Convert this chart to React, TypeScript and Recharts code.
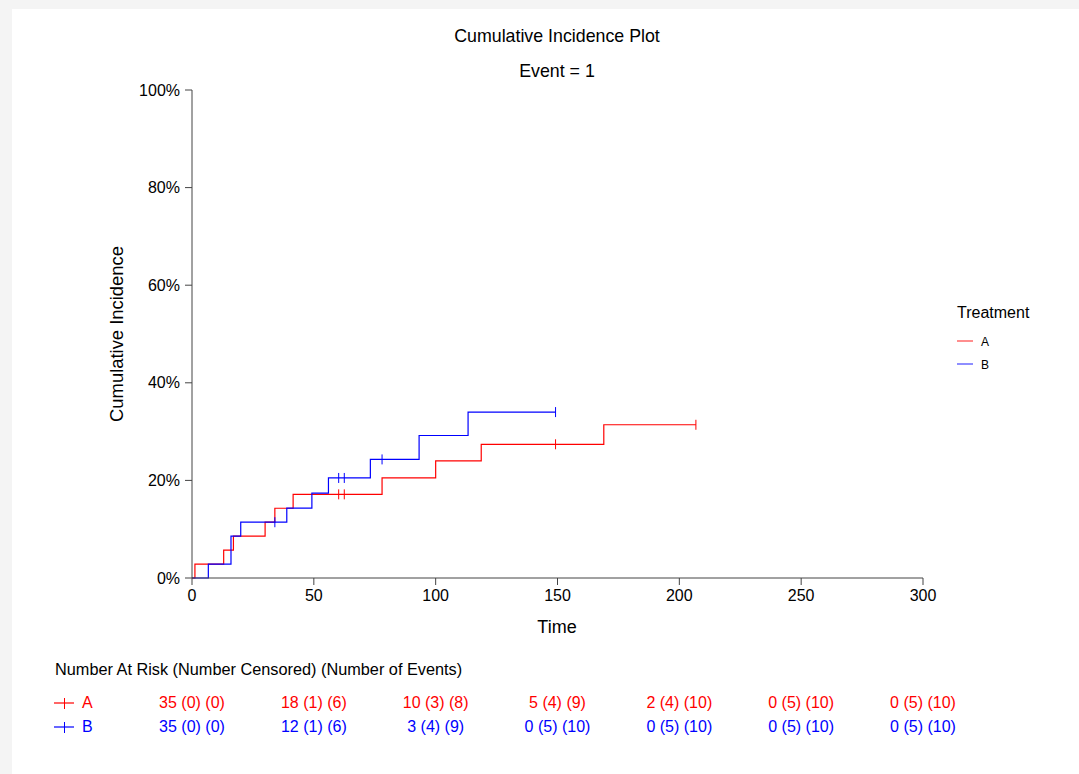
import React from 'react';
import { ComposedChart, Line, Scatter, XAxis, YAxis } from 'recharts';

// cumulative incidence steps (time, percent)
const timesA = [0, 1.2, 13, 17, 30, 34, 41.5, 78, 100, 118.7, 169, 206.8];
const incA = [0, 2.86, 5.71, 8.57, 11.43, 14.29, 17.14, 20.5, 24.0, 27.4, 31.4, 31.4];
const censorA = [60.2, 62.5, 149.2, 206.8];

const timesB = [0, 6.7, 16, 20, 38.9, 49.2, 56, 73.2, 93.2, 113.3, 149.2];
const incB = [0, 2.86, 8.57, 11.43, 14.3, 17.4, 20.5, 24.3, 29.2, 34.0, 34.0];
const censorB = [34, 60.2, 62.5, 78, 149.2];

const xTicks = [0, 50, 100, 150, 200, 250, 300];
const yTicks = [0, 20, 40, 60, 80, 100];

const riskTimes = [0, 50, 100, 150, 200, 250, 300];
const riskA = ['35 (0) (0)', '18 (1) (6)', '10 (3) (8)', '5 (4) (9)', '2 (4) (10)', '0 (5) (10)', '0 (5) (10)'];
const riskB = ['35 (0) (0)', '12 (1) (6)', '3 (4) (9)', '0 (5) (10)', '0 (5) (10)', '0 (5) (10)', '0 (5) (10)'];

const RED = '#ff0000';
const BLUE = '#0000ff';
const AXIS = '#444';
const FONT = '"Liberation Sans", Arial, sans-serif';

const W = 1079;
const H = 774;
const PLOT_LEFT = 192;
const PLOT_RIGHT = 923;
const PLOT_TOP = 90;
const PLOT_BOTTOM = 578;

const toSteps = (ts: number[], vs: number[]) => ts.map((t, i) => ({ t, v: vs[i] }));
const stepsA = toSteps(timesA, incA);
const stepsB = toSteps(timesB, incB);

// value of a step curve at time t
const valueAt = (ts: number[], vs: number[], t: number) => {
  let v = vs[0];
  ts.forEach((tt, i) => {
    if (tt <= t) v = vs[i];
  });
  return v;
};
const marksA = censorA.map((t) => ({ t, v: valueAt(timesA, incA, t) }));
const marksB = censorB.map((t) => ({ t, v: valueAt(timesB, incB, t) }));

const CensorTick = (color: string) => (props: any) => {
  const { cx, cy } = props;
  if (cx == null || cy == null) return null;
  return <line x1={cx} x2={cx} y1={cy - 5} y2={cy + 5} stroke={color} strokeWidth={1} />;
};

const timeToX = (t: number) => PLOT_LEFT + (t / 300) * (PLOT_RIGHT - PLOT_LEFT);

const abs = (x: number, y: number, extra: React.CSSProperties = {}): React.CSSProperties => ({
  position: 'absolute',
  left: x,
  top: y,
  whiteSpace: 'nowrap',
  lineHeight: 1,
  ...extra,
});

const Swatch = ({ x, y, color, cross }: { x: number; y: number; color: string; cross?: boolean }) => (
  <svg style={{ position: 'absolute', left: x, top: y - 6 }} width={22} height={12}>
    <line x1={0} x2={cross ? 20 : 16} y1={6} y2={6} stroke={color} strokeWidth={cross ? 1.2 : 1.6} opacity={cross ? 1 : 0.55} />
    {cross && <line x1={10.5} x2={10.5} y1={1} y2={12} stroke={color} strokeWidth={1} />}
  </svg>
);

export default function App() {
  const yAxisWidth = 70;
  const xAxisHeight = 30;
  return (
    <div style={{ position: 'absolute', left: 0, top: 0, width: W, height: H, background: '#f4f4f4', fontFamily: FONT }}>
      <div style={{ position: 'absolute', left: 12, top: 9, right: 0, bottom: 0, background: '#fff' }} />
      <div style={{ position: 'absolute', left: 0, top: 0 }}>
        <ComposedChart
          width={W}
          height={H}
          margin={{
            left: PLOT_LEFT - yAxisWidth,
            right: W - PLOT_RIGHT,
            top: PLOT_TOP,
            bottom: H - PLOT_BOTTOM - xAxisHeight,
          }}
        >
          <XAxis
            dataKey="t"
            type="number"
            domain={[0, 300]}
            ticks={xTicks}
            height={xAxisHeight}
            stroke={AXIS}
            tickSize={7}
            tickMargin={5}
            tick={{ fill: '#000', fontSize: 16, fontFamily: FONT }}
          />
          <YAxis
            dataKey="v"
            type="number"
            domain={[0, 100]}
            ticks={yTicks}
            width={yAxisWidth}
            stroke={AXIS}
            tickSize={7}
            tickMargin={5}
            tickFormatter={(v: number) => `${v}%`}
            tick={{ fill: '#000', fontSize: 16, fontFamily: FONT }}
          />
          <Line data={stepsA} dataKey="v" type="stepAfter" stroke={RED} strokeWidth={1.2} dot={false} isAnimationActive={false} />
          <Line data={stepsB} dataKey="v" type="stepAfter" stroke={BLUE} strokeWidth={1.2} dot={false} isAnimationActive={false} />
          <Scatter data={marksA} dataKey="v" shape={CensorTick(RED)} isAnimationActive={false} />
          <Scatter data={marksB} dataKey="v" shape={CensorTick(BLUE)} isAnimationActive={false} />
        </ComposedChart>
      </div>

      <div style={abs(557, 28, { transform: 'translateX(-50%)', fontSize: 17.8 })}>Cumulative Incidence Plot</div>
      <div style={abs(557, 63, { transform: 'translateX(-50%)', fontSize: 17.8 })}>Event = 1</div>
      <div style={abs(557, 618, { transform: 'translateX(-50%)', fontSize: 18 })}>Time</div>
      <div style={abs(117, 334, { transform: 'translate(-50%, -50%) rotate(-90deg)', fontSize: 18.4 })}>Cumulative Incidence</div>

      <div style={abs(957, 305, { fontSize: 16 })}>Treatment</div>
      <Swatch x={957} y={341} color={RED} />
      <div style={abs(981, 336, { fontSize: 12 })}>A</div>
      <Swatch x={957} y={364} color={BLUE} />
      <div style={abs(981, 359, { fontSize: 12 })}>B</div>

      <div style={abs(55, 661, { fontSize: 16.3 })}>Number At Risk (Number Censored) (Number of Events)</div>
      {[
        { name: 'A', color: RED, rows: riskA, y: 703 },
        { name: 'B', color: BLUE, rows: riskB, y: 727 },
      ].map((g) => (
        <React.Fragment key={g.name}>
          <Swatch x={54} y={g.y} color={g.color} cross />
          <div style={abs(82, g.y - 8, { fontSize: 16, color: g.color })}>{g.name}</div>
          {g.rows.map((s, i) => (
            <div key={i} style={abs(timeToX(riskTimes[i]), g.y - 8, { transform: 'translateX(-50%)', fontSize: 16, color: g.color })}>
              {s}
            </div>
          ))}
        </React.Fragment>
      ))}
    </div>
  );
}
